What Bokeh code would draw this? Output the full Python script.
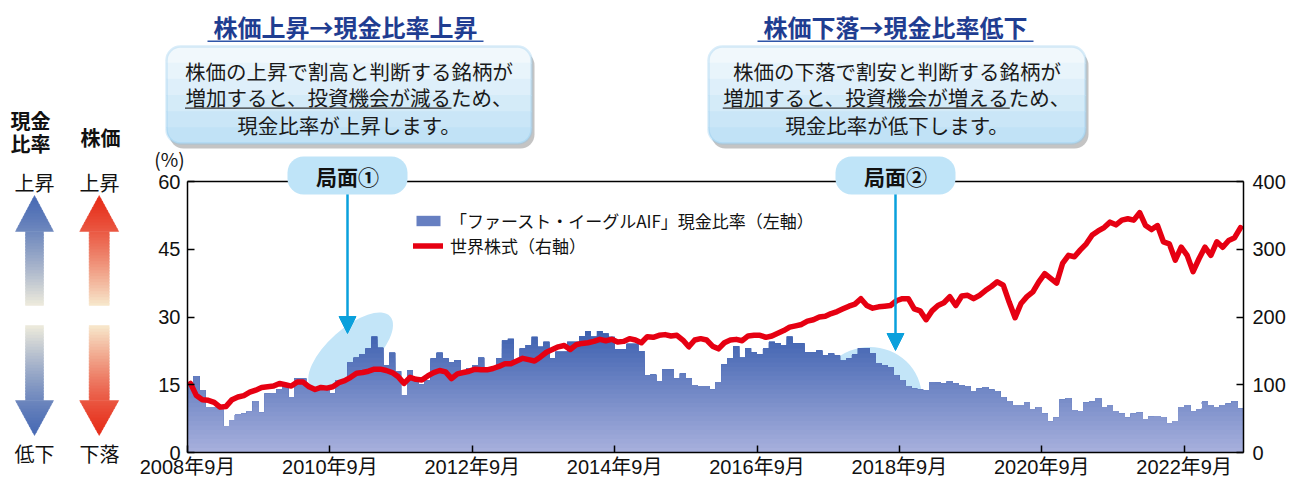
import numpy as np
from bokeh.plotting import figure
from bokeh.layouts import column
from bokeh.models import (Range1d, LinearAxis, FixedTicker, Label, BoxAnnotation,
                          Arrow, NormalHead, Legend, LegendItem)
from bokeh.embed import file_html
from bokeh.resources import INLINE

# ---------------- data ----------------
cash_ratio = [
    15.3, 16.9, 13.8, 10.0, 10.0, 9.6, 5.8, 7.2, 8.4, 8.6,
    9.1, 11.4, 8.8, 13.0, 13.2, 14.0, 14.7, 12.3, 16.4, 16.4,
    14.7, 14.4, 14.7, 14.4, 13.0, 16.0, 16.0, 20.0, 21.0, 21.8,
    23.0, 25.7, 23.2, 19.3, 22.1, 18.0, 12.7, 18.2, 16.4, 15.0,
    16.0, 20.8, 22.1, 20.8, 19.9, 20.4, 17.8, 18.7, 19.4, 21.0,
    18.6, 18.2, 20.8, 24.8, 25.2, 20.0, 23.0, 23.8, 25.6, 23.4,
    24.5, 20.8, 22.3, 22.3, 24.5, 24.5, 25.8, 26.9, 25.7, 26.9,
    26.4, 25.6, 22.8, 22.8, 24.1, 24.1, 22.5, 17.1, 17.2, 15.8,
    18.4, 18.4, 16.4, 17.5, 16.4, 14.9, 14.7, 14.7, 13.9, 15.6,
    19.5, 20.9, 23.5, 21.0, 23.1, 22.2, 21.7, 23.0, 24.5, 24.2,
    23.7, 25.7, 24.2, 24.2, 22.2, 22.2, 22.6, 21.5, 21.9, 21.5,
    20.3, 20.8, 21.7, 23.1, 23.1, 21.9, 19.8, 19.3, 18.8, 17.1,
    16.0, 14.7, 14.1, 13.9, 13.8, 15.6, 15.5, 15.3, 15.8, 15.3,
    14.9, 14.7, 13.6, 14.1, 14.5, 13.9, 13.6, 12.3, 11.4, 10.5,
    10.5, 11.1, 9.6, 10.1, 8.6, 6.8, 7.7, 11.7, 12.0, 9.4,
    9.1, 11.0, 11.3, 12.0, 10.1, 10.5, 9.2, 8.6, 7.7, 8.6,
    8.8, 7.4, 7.9, 8.1, 7.8, 6.4, 6.9, 10.1, 10.5, 9.1,
    9.6, 11.3, 10.5, 10.1, 10.5, 10.8, 11.3, 9.7]

world_stocks = [
    102, 84, 78, 77, 74, 67, 68, 78, 82, 84,
    89, 92, 96, 97, 98, 102, 100, 98, 104, 104,
    97, 93, 96, 95, 97, 103, 106, 111, 117, 118,
    120, 123, 123, 121, 118, 112, 102, 111, 108, 107,
    113, 118, 121, 119, 109, 116, 118, 120, 123, 122,
    122, 124, 127, 131, 131, 135, 139, 137, 135, 141,
    148, 152, 156, 158, 152, 159, 161, 162, 164, 167,
    165, 167, 163, 164, 168, 166, 162, 171, 170, 173,
    174, 172, 173, 166, 156, 166, 168, 166, 157, 153,
    162, 166, 167, 165, 172, 173, 173, 170, 172, 176,
    180, 185, 187, 189, 194, 196, 200, 201, 205, 208,
    212, 216, 219, 227, 217, 213, 215, 216, 217, 224,
    227, 227, 212, 209, 196, 209, 217, 221, 230, 217,
    231, 232, 227, 232, 239, 245, 252, 247, 222, 199,
    220, 230, 237, 252, 264, 257, 250, 279, 291, 289,
    299, 308, 321, 327, 332, 340, 336, 343, 345, 343,
    354, 335, 329, 335, 311, 308, 284, 303, 291, 267,
    286, 303, 291, 311, 303, 313, 317, 332]

x_tick_months = [0, 24, 48, 72, 96, 120, 144, 168]
x_tick_labels = ["2008年9月", "2010年9月", "2012年9月", "2014年9月",
                 "2016年9月", "2018年9月", "2020年9月", "2022年9月"]
left_ticks = [0, 15, 30, 45, 60]
right_ticks = [0, 100, 200, 300, 400]

series_names = ["「ファースト・イーグルAIF」現金比率（左軸）", "世界株式（右軸）"]
phase_labels = ["局面①", "局面②"]
phase_titles = ["株価上昇→現金比率上昇", "株価下落→現金比率低下"]
phase_notes = [["株価の上昇で割高と判断する銘柄が", "増加すると、投資機会が減るため、", "現金比率が上昇します。"],
               ["株価の下落で割安と判断する銘柄が", "増加すると、投資機会が増えるため、", "現金比率が低下します。"]]
underline_chars = [13, 14]
highlight_month = [27.5, 115.0]
highlight_level = [22.3, 12.3]

JP = "Noto Sans CJK JP"
NUM = "Liberation Sans, Noto Sans CJK JP"

# ---------------- geometry (window pixels) ----------------
W, H = 1300, 485
BL, BR, BT, BB = 187, 57, 181, 33
FL = BL            # frame left
FB = H - BB        # frame bottom


def mix(c1, c2, t):
    t = max(0.0, min(1.0, t))
    r = [int(round(a + (b - a) * t)) for a, b in zip(c1, c2)]
    return "#%02x%02x%02x" % tuple(r)


# ================= main chart =================
p = figure(width=W, height=H, x_range=Range1d(0, len(cash_ratio)), y_range=Range1d(0, 60),
           output_backend="svg", toolbar_location=None, x_axis_type=None, y_axis_type=None,
           min_border_left=BL, min_border_right=BR, min_border_top=BT, min_border_bottom=BB,
           title=None)
p.frame_align = False
p.extra_y_ranges = {"stock": Range1d(0, 400)}
p.outline_line_color = None
p.background_fill_color = "white"
p.border_fill_color = "white"


def style_axis(ax):
    ax.axis_line_color = "black"
    ax.axis_line_width = 1.5
    ax.major_tick_in = 7
    ax.major_tick_out = 0
    ax.major_tick_line_color = "black"
    ax.major_tick_line_width = 1.5
    ax.minor_tick_line_color = None
    ax.major_label_text_font_size = "20px"
    ax.major_label_text_font = NUM
    ax.major_label_text_color = "#111111"


xaxis = LinearAxis(ticker=FixedTicker(ticks=x_tick_months),
                   major_label_overrides={t: l for t, l in zip(x_tick_months, x_tick_labels)})
style_axis(xaxis)
xaxis.major_label_standoff = 3
p.add_layout(xaxis, "below")

yaxis = LinearAxis(ticker=FixedTicker(ticks=left_ticks))
style_axis(yaxis)
yaxis.major_label_standoff = 7
p.add_layout(yaxis, "left")

raxis = LinearAxis(y_range_name="stock", ticker=FixedTicker(ticks=right_ticks))
style_axis(raxis)
raxis.major_label_standoff = 9
p.add_layout(raxis, "right")

taxis = LinearAxis(ticker=FixedTicker(ticks=[]))
style_axis(taxis)
p.add_layout(taxis, "above")

# highlight ellipses (behind the bars)
p.ellipse(x=highlight_month, y=highlight_level, width=[106, 104], height=[46, 100],
          angle=[0.73, 0.0], width_units="screen", height_units="screen",
          fill_color="#c3e5f8", line_color=None)

# gradient bars: stacked step areas, darker with height
edges = np.arange(len(cash_ratio) + 1)
vals = np.array(cash_ratio + [cash_ratio[-1]], dtype=float)
BAR_LOW = (168, 177, 221)
BAR_HIGH = (60, 95, 175)
bar_layers = {}
for k in reversed(range(28)):
    col = mix(BAR_LOW, BAR_HIGH, (k + 0.5) / 27.0)
    bar_layers[k] = p.varea_step(x=edges, y1=np.zeros_like(vals), y2=np.minimum(vals, k + 1),
                                 step_mode="after", fill_color=col, fill_alpha=1.0)

# world stocks line (right axis)
line_x = np.arange(len(world_stocks)) + 0.5
line_r = p.line(x=line_x, y=world_stocks, y_range_name="stock", line_color="#e60012",
                line_width=5.5, line_join="round", line_cap="round")

legend = Legend(items=[LegendItem(label=series_names[0], renderers=[bar_layers[16]]),
                       LegendItem(label=series_names[1], renderers=[line_r])],
                location=(413 - FL, FB - 258), orientation="vertical",
                glyph_width=30, glyph_height=13, label_height=20, label_standoff=7,
                spacing=0, padding=0, margin=0,
                background_fill_alpha=0, border_line_alpha=0,
                label_text_font_size="17px", label_text_font=JP, label_text_color="#111111")
p.add_layout(legend)

# ================= decoration layer (transparent, overlaid) =================
d = figure(width=W, height=H, x_range=Range1d(0, W), y_range=Range1d(0, H),
           output_backend="svg", toolbar_location=None, x_axis_type=None, y_axis_type=None,
           min_border=0, title=None)
d.frame_align = False
d.background_fill_alpha = 0
d.border_fill_alpha = 0
d.outline_line_color = None
d.styles = {"margin-top": "-%dpx" % H}


def Y(yw):
    return H - yw


def box(l, r, t, b, **kw):
    d.add_layout(BoxAnnotation(left=l, right=r, top=Y(t), bottom=Y(b), **kw))


def lab(xw, yw, txt, size="20px", bold=False, color="#111111", align="center"):
    d.add_layout(Label(x=xw, y=Y(yw), text=txt, text_align=align, text_baseline="middle",
                       text_font=JP, text_font_size=size,
                       text_font_style="bold" if bold else "normal", text_color=color))


box_x = [(166, 531), (708, 1085)]
box_y = (46, 143)
title_cx = [345, 895]
title_fs = 24
note_fs = 20.5
note_y = [70, 96, 124]
BOX_TOP = (246, 250, 253)
BOX_BOT = (188, 224, 245)

for i in range(2):
    l, r = box_x[i]
    cx = (l + r) / 2.0
    # title with underline
    lab(title_cx[i], 26, phase_titles[i], size="%dpx" % title_fs, bold=True, color="#1f3d91")
    half = len(phase_titles[i]) * title_fs / 2.0 + 6
    box(title_cx[i] - half, title_cx[i] + half, 40, 41.6, fill_color="#2f55a8", fill_alpha=1.0,
        line_color=None)
    # shadow
    box(l + 3, r + 3, box_y[0] + 5, box_y[1] + 5, fill_color="#8a8a8a", fill_alpha=0.5,
        line_color=None, border_radius=14)
    # gradient body
    n = 6
    ys = np.linspace(box_y[0], box_y[1], n + 1)
    for j in range(n):
        yt, yb = ys[j], ys[j + 1] + (1.0 if j < n - 1 else 0.0)
        br = (14, 14, 0, 0) if j == 0 else ((0, 0, 14, 14) if j == n - 1 else 0)
        box(l, r, yt, yb, fill_color=mix(BOX_TOP, BOX_BOT, (j + 0.5) / n), fill_alpha=1.0,
            line_color=None, border_radius=br)
    box(l, r, box_y[0], box_y[1], fill_alpha=0.0, line_color="#86c5ea", line_width=2.5,
        border_radius=14)
    for j, txt in enumerate(phase_notes[i]):
        lab(cx, note_y[j], txt, size="%gpx" % note_fs, color="#1a1a1a")
    start = cx - len(phase_notes[i][1]) * note_fs / 2.0
    box(start, start + underline_chars[i] * note_fs, 107, 108.3, fill_color="#333333",
        fill_alpha=1.0, line_color=None)

# phase pills with arrows
pill_x = [(287, 407), (835, 955)]
arrow_tip = [333, 350]
CYAN = "#0aa0dc"
for i in range(2):
    l, r = pill_x[i]
    cx = (l + r) / 2.0
    d.add_layout(Arrow(x_start=cx, y_start=Y(192), x_end=cx, y_end=Y(arrow_tip[i]),
                       line_color=CYAN, line_width=2.5,
                       end=NormalHead(size=17, fill_color=CYAN, line_color=CYAN, line_width=1)))
    box(l, r, 156, 194, fill_color="#bfe4f8", fill_alpha=1.0, line_color=None, border_radius=16)
    lab(cx, 175, phase_labels[i], size="21px", bold=True)

# left panel
lab(169, 158, "(%)", size="19px")
lab(30, 120, "現金", bold=True)
lab(30, 143, "比率", bold=True)
lab(100, 137, "株価", bold=True)
lab(34, 182, "上昇")
lab(99, 182, "上昇")
lab(34, 453, "低下")
lab(99, 453, "下落")


def arrow_strips(cx, tip_y, base_y, end_y, head_hw, shaft_hw, c_dark, c_pale, step=3.0):
    xs, ys, cols = [], [], []
    dirn = 1.0 if end_y > tip_y else -1.0
    L = abs(end_y - tip_y)
    Lh = abs(base_y - tip_y)
    cuts = list(np.arange(0, Lh, step)) + [Lh] + list(np.arange(Lh + step, L, step)) + [L]
    cuts = sorted(set(round(float(c), 3) for c in cuts))
    for a, b in zip(cuts[:-1], cuts[1:]):
        head = b <= Lh + 1e-6
        ext = b + 0.8 if b < L else b
        if head:
            b2 = min(ext, Lh)
            w0, w1 = head_hw * a / Lh, head_hw * b2 / Lh
        else:
            b2 = ext
            w0 = w1 = shaft_hw
        y0, y1 = tip_y + dirn * a, tip_y + dirn * b2
        xs.append([cx - w0, cx + w0, cx + w1, cx - w1])
        ys.append([Y(y0), Y(y0), Y(y1), Y(y1)])
        cols.append(mix(c_dark, c_pale, (((a + b) / 2.0) / L) ** 1.3))
    return xs, ys, cols


BLUE_D, BLUE_P = (72, 106, 180), (238, 235, 220)
RED_D, RED_P = (230, 45, 25), (247, 232, 204)
all_xs, all_ys, all_cols = [], [], []
for spec in [(34, 195, 231, 305, 19, 9, BLUE_D, BLUE_P),
             (34, 435, 400, 325, 19, 9, BLUE_D, BLUE_P),
             (98.7, 195, 231, 305, 19.5, 10, RED_D, RED_P),
             (98.7, 435, 400, 325, 19.5, 10, RED_D, RED_P)]:
    xs, ys, cols = arrow_strips(*spec)
    all_xs += xs
    all_ys += ys
    all_cols += cols
d.patches(xs=all_xs, ys=all_ys, fill_color=all_cols, line_color=all_cols, line_width=0.5)

layout = column(p, d)
open("out.html", "w").write(file_html(layout, INLINE))
